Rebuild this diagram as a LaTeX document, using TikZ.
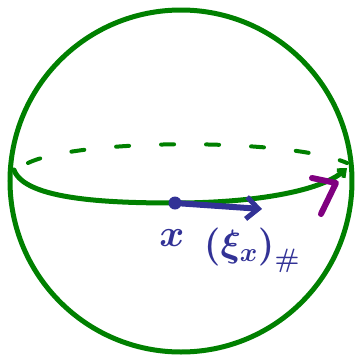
\RequirePackage{fix-cm}
\documentclass[tikz,border=0pt]{standalone}
\usetikzlibrary{arrows.meta}
\definecolor{gr}{RGB}{0,128,0}
\definecolor{bl}{RGB}{50,50,150}
\definecolor{pu}{RGB}{128,0,128}
\begin{document}
\begin{tikzpicture}[x=1pt,y=-1pt,
  greenline/.style={draw=gr,line width=5pt,line cap=round},
  blueline/.style={draw=bl,line width=6pt,line cap=round,line join=round},
  lbl/.style={text=bl,inner sep=0pt,font=\fontsize{38}{40}\selectfont\boldmath}]
\useasboundingbox (0,0) rectangle (360,360);
\node[circle,draw=gr,line width=5pt,minimum size=342pt,inner sep=0pt] (sphere) at (181,181) {};
\coordinate (eqL) at (14,170);
\coordinate (eqM) at (175,203);
\coordinate (eqR) at (347,168);
\draw[greenline,-{Straight Barb[length=6pt,width=10pt,line width=4pt]}] (eqL) .. controls (25,200) and (110,203) .. (eqM) .. controls (250,203) and (320,192) .. (eqR);
\draw[greenline,line width=4pt,dash pattern=on 13pt off 32pt] (28,163) .. controls (80,138) and (290,138) .. (347,163);
\coordinate (pA) at (312,178);
\coordinate (pV) at (336,183);
\coordinate (pB) at (321,214);
\draw[draw=pu,line width=6pt,line cap=round,line join=round] (pA) -- (pV) -- (pB);
\fill[bl] (eqM) circle (6.5pt);
\coordinate (vt) at (262,209);
\draw[blueline,-{Straight Barb[length=12pt,width=22pt,line width=5pt]}] (eqM) -- (vt);
\node[lbl] (x) at (172,238) {$x$};
\node[lbl] (xi) at (252,250) {$\bigl(\xi_x\bigr)_\#$};
\end{tikzpicture}
\end{document}
